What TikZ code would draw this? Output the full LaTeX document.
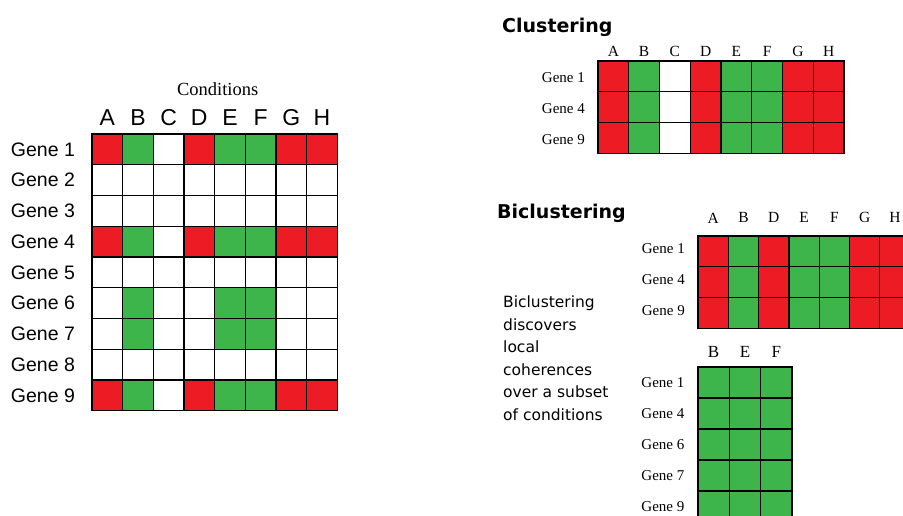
\documentclass[tikz,border=0pt]{standalone}
\usepackage{fontspec}
\setmainfont{Liberation Serif}
\newfontfamily\arialfont{Liberation Sans}
\newfontfamily\tahomafont{DejaVu Sans}
\definecolor{gxred}{RGB}{237,28,36}
\definecolor{gxgreen}{RGB}{61,181,74}
\colorlet{R}{gxred}
\colorlet{G}{gxgreen}
\colorlet{W}{white}

\tikzset{
  cellline/.style={draw=black,line width=1.2pt},
  genelab/.style={font=\arialfont\fontsize{19.5}{22}\selectfont,anchor=east,inner sep=0pt},
  condlab/.style={font=\arialfont\fontsize{23}{26}\selectfont,inner sep=0pt},
  smallgene/.style={font=\fontsize{15}{17}\selectfont,anchor=east,inner sep=0pt},
  smallcond/.style={font=\fontsize{15.5}{17}\selectfont,inner sep=0pt},
  heading/.style={font=\tahomafont\bfseries\fontsize{19}{22}\selectfont,anchor=base west,inner sep=0pt},
  note/.style={font=\tahomafont\fontsize{15.5}{22.5}\selectfont,align=left,anchor=north west,inner sep=0pt}
}

\begin{document}
\begin{tikzpicture}[x=1pt,y=-1pt]
  \clip (0,0) rectangle (903,515);
  \fill[white] (0,0) rectangle (903,515);

  % full expression matrix
  \begin{scope}[shift={(92,134)},x=30.65pt,y=-30.75pt]
    \foreach \row [count=\i] in {{R,G,W,R,G,G,R,R},{W,W,W,W,W,W,W,W},{W,W,W,W,W,W,W,W},
        {R,G,W,R,G,G,R,R},{W,W,W,W,W,W,W,W},{W,G,W,W,G,G,W,W},{W,G,W,W,G,G,W,W},
        {W,W,W,W,W,W,W,W},{R,G,W,R,G,G,R,R}}
      \foreach \c [count=\j] in \row
        \filldraw[fill=\c,cellline] (\j-1,\i-1) rectangle (\j,\i);
    \foreach \g in {1,...,9}
      \node[genelab] (fg\g) at (-0.55,\g-0.5) {Gene \g};
    \foreach \l [count=\j] in {A,B,C,D,E,F,G,H}
      \node[condlab] (fc\l) at (\j-0.5,-0.52) {\l};
    \node[font=\fontsize{18.5}{20}\selectfont,inner sep=0pt] (cond) at (4.1,-1.45) {Conditions};
  \end{scope}

  % clustering
  \node[heading] (clus) at (502,32) {Clustering};
  \begin{scope}[shift={(598,61)},x=30.75pt,y=-30.7pt]
    \foreach \g [count=\i] in {1,4,9} {
      \foreach \c [count=\j] in {R,G,W,R,G,G,R,R}
        \filldraw[fill=\c,cellline] (\j-1,\i-1) rectangle (\j,\i);
      \node[smallgene] (cg\g) at (-0.42,\i-0.45) {Gene \g};
    }
    \foreach \l [count=\j] in {A,B,C,D,E,F,G,H}
      \node[smallcond] (cc\l) at (\j-0.5,-0.3) {\l};
  \end{scope}

  % biclustering
  \node[heading] (bicl) at (497,218) {Biclustering};
  \node[note] (expl) at (503,296) {Biclustering\\discovers\\local\\coherences\\over a subset\\of conditions};
  \begin{scope}[shift={(698,236)},x=30.3pt,y=-30.7pt]
    \foreach \g [count=\i] in {1,4,9} {
      \foreach \c [count=\j] in {R,G,R,G,G,R,R}
        \filldraw[fill=\c,cellline] (\j-1,\i-1) rectangle (\j,\i);
      \node[smallgene] (bg\g) at (-0.43,\i-0.58) {Gene \g};
    }
    \foreach \l [count=\j] in {A,B,D,E,F,G,H}
      \node[smallcond] (bc\l) at (\j-0.5,-0.59) {\l};
  \end{scope}
  \begin{scope}[shift={(698,367)},x=31.3pt,y=-31pt]
    \foreach \g [count=\i] in {1,4,6,7,9} {
      \foreach \j in {1,2,3}
        \filldraw[fill=G,cellline] (\j-1,\i-1) rectangle (\j,\i);
      \node[smallgene] (sg\g) at (-0.43,\i-0.5) {Gene \g};
    }
    \foreach \l [count=\j] in {B,E,F}
      \node[smallcond,font=\fontsize{17}{19}\selectfont] (sc\l) at (\j-0.5,-0.48) {\l};
  \end{scope}
\end{tikzpicture}
\end{document}
